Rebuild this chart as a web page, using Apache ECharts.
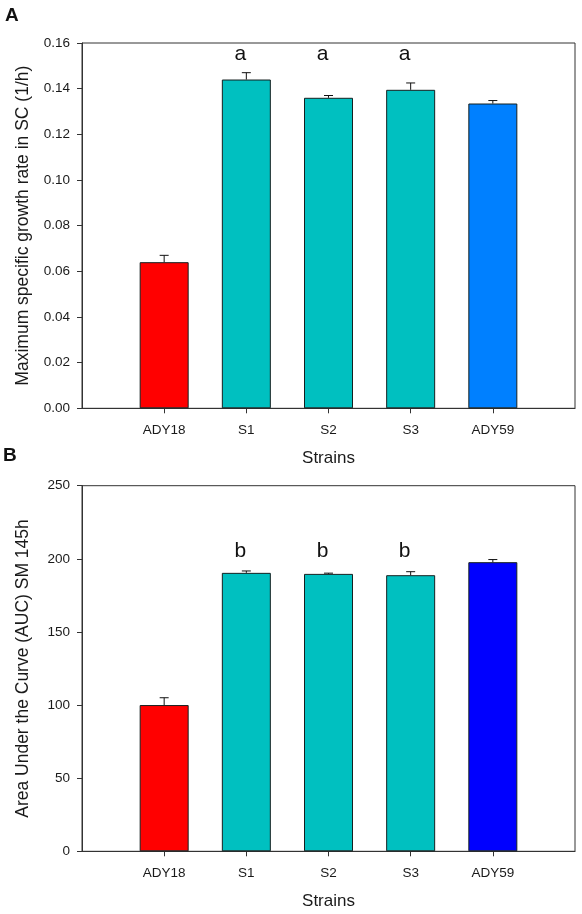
<!DOCTYPE html>
<html>
<head>
<meta charset="utf-8">
<script src="https://cdn.jsdelivr.net/npm/echarts@6/dist/echarts.min.js"></script>
<style>
html,body{margin:0;padding:0;background:#fff;}
#chart{width:582px;height:914px;}
</style>
</head>
<body>
<div id="chart"></div>
<script>
// ---- data ----
var strains = ['ADY18', 'S1', 'S2', 'S3', 'ADY59'];
var growthRate = [0.064, 0.144, 0.136, 0.1395, 0.1335];
var growthErr = [0.003, 0.003, 0.001, 0.003, 0.0013];
var growthLetters = ['', 'a', 'a', 'a', ''];
var auc = [100, 190.4, 189.7, 188.8, 197.7];
var aucErr = [5, 1.3, 0.5, 2.4, 1.8];
var aucLetters = ['', 'b', 'b', 'b', ''];
var growthTicks = [0, 0.02, 0.04, 0.06, 0.08, 0.10, 0.12, 0.14, 0.16];
var aucTicks = [0, 50, 100, 150, 200, 250];

var colorsTop = ['#ff0000', '#00c0c0', '#00c0c0', '#00c0c0', '#0080ff'];
var colorsBottom = ['#ff0000', '#00c0c0', '#00c0c0', '#00c0c0', '#0000ff'];

var FONT = "'Liberation Sans', Arial, sans-serif";
var cats = [''].concat(strains).concat([' ']);
function showIdx(i) { return i >= 1 && i <= strains.length; }

function xAxisCfg(gi) {
  return {
    type: 'category', gridIndex: gi, data: cats, boundaryGap: false,
    name: 'Strains', nameLocation: 'middle', nameGap: 42,
    nameTextStyle: { fontFamily: FONT, fontSize: 17, color: '#1a1a1a' },
    axisLine: { show: true, lineStyle: { color: '#333', width: 1 } },
    axisTick: { show: true, inside: false, length: 5, interval: function (i) { return showIdx(i); }, lineStyle: { color: '#333' } },
    axisLabel: { show: true, margin: 15, interval: function (i) { return showIdx(i); }, fontFamily: FONT, fontSize: 13.5, color: '#1a1a1a' },
    splitLine: { show: false }
  };
}
function yAxisCfg(gi, ticks, name, dec) {
  return {
    type: 'value', gridIndex: gi, min: ticks[0], max: ticks[ticks.length - 1],
    interval: ticks[1] - ticks[0],
    name: name, nameLocation: 'middle', nameGap: 50,
    nameTextStyle: { fontFamily: FONT, fontSize: 17.5, color: '#1a1a1a' },
    axisLine: { show: true, lineStyle: { color: '#333', width: 1 } },
    axisTick: { show: true, inside: false, length: 5, lineStyle: { color: '#333' } },
    axisLabel: { margin: 12, fontFamily: FONT, fontSize: 13.5, color: '#1a1a1a',
      formatter: function (v) { return v.toFixed(dec); } },
    splitLine: { show: false }
  };
}
function barSeries(gi, vals, colors) {
  return {
    type: 'bar', xAxisIndex: gi, yAxisIndex: gi, barWidth: 49,
    data: vals.map(function (v, i) {
      return { value: [i + 1, v], itemStyle: { color: colors[i], borderColor: '#152020', borderWidth: 1 } };
    }),
    z: 2, animation: false
  };
}
function errSeries(gi, vals, errs) {
  return {
    type: 'custom', xAxisIndex: gi, yAxisIndex: gi, z: 3, animation: false,
    data: vals.map(function (v, i) { return [i + 1, v, errs[i]]; }),
    renderItem: function (params, api) {
      var x = api.value(0), v = api.value(1), e = api.value(2);
      var p0 = api.coord([x, v]);
      var p1 = api.coord([x, v + e]);
      var hw = 4.5;
      return {
        type: 'group',
        children: [
          { type: 'line', shape: { x1: p0[0], y1: p0[1], x2: p1[0], y2: p1[1] }, style: { stroke: '#111', lineWidth: 1 } },
          { type: 'line', shape: { x1: p1[0] - hw, y1: p1[1], x2: p1[0] + hw, y2: p1[1] }, style: { stroke: '#111', lineWidth: 1 } }
        ]
      };
    }
  };
}
function letterSeries(gi, letters, yPos) {
  return {
    type: 'custom', xAxisIndex: gi, yAxisIndex: gi, z: 4, animation: false,
    data: letters.map(function (l, i) { return [i + 1, yPos, l]; }),
    renderItem: function (params, api) {
      var p = api.coord([api.value(0), api.value(1)]);
      var txt = letters[params.dataIndex];
      return { type: 'text', x: p[0] - 6, y: p[1],
        style: { text: txt, fontFamily: FONT, fontSize: 21, fill: '#111', align: 'center', verticalAlign: 'middle' } };
    }
  };
}

var chart = echarts.init(document.getElementById('chart'), null, { renderer: 'canvas' });
chart.setOption({
  backgroundColor: '#fff',
  animation: false,
  grid: [
    { left: 82, right: 7, top: 43, height: 365.3, show: true, borderColor: '#333', borderWidth: 1, backgroundColor: 'transparent' },
    { left: 82, right: 7, top: 485.7, height: 365.6, show: true, borderColor: '#333', borderWidth: 1, backgroundColor: 'transparent' }
  ],
  xAxis: [xAxisCfg(0), xAxisCfg(1)],
  yAxis: [
    yAxisCfg(0, growthTicks, 'Maximum specific growth rate in SC (1/h)', 2),
    yAxisCfg(1, aucTicks, 'Area Under the Curve (AUC) SM 145h', 0)
  ],
  graphic: [
    { type: 'text', left: 5, top: 6, style: { text: 'A', fontFamily: FONT, fontSize: 19, fontWeight: 'bold', fill: '#111' } },
    { type: 'text', left: 3, top: 446, style: { text: 'B', fontFamily: FONT, fontSize: 19, fontWeight: 'bold', fill: '#111' } }
  ],
  series: [
    barSeries(0, growthRate, colorsTop),
    errSeries(0, growthRate, growthErr),
    letterSeries(0, growthLetters, 0.1552),
    barSeries(1, auc, colorsBottom),
    errSeries(1, auc, aucErr),
    letterSeries(1, aucLetters, 205)
  ]
});
</script>
</body>
</html>
